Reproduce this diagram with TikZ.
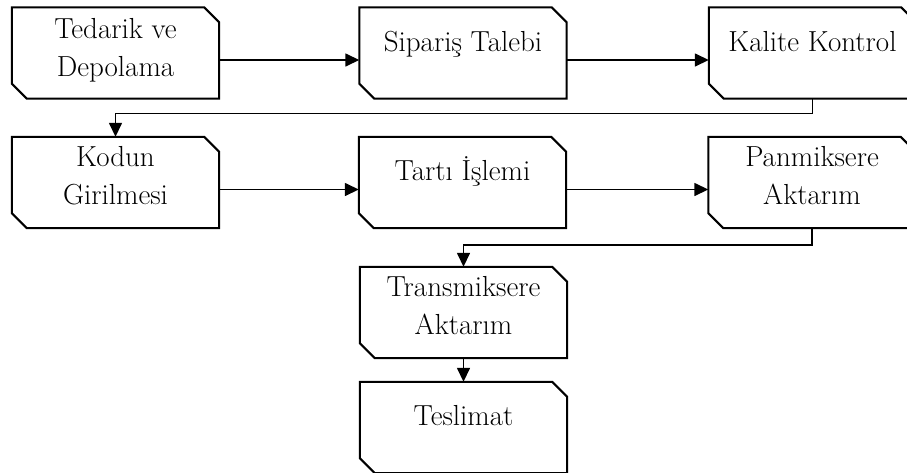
\documentclass[tikz,border=0pt]{standalone}
\usepackage{fontspec}
\setmainfont{Latin Modern Roman}
\usetikzlibrary{arrows.meta,calc}
\newcommand\snipbox[1]{\draw[outline] (#1.north west) -- ($(#1.north east)+(-15,0)$) -- ($(#1.north east)+(0,15)$) -- (#1.south east) -- ($(#1.south west)+(15,0)$) -- ($(#1.south west)+(0,-15)$) -- cycle;}
\begin{document}
\begin{tikzpicture}[x=1pt,y=-1pt,
  box/.style={draw=none, minimum width=207pt, minimum height=91pt, inner sep=0pt},
  lbl/.style={align=center, font=\fontsize{29}{38}\selectfont, inner sep=0pt, anchor=base},
  conn/.style={line width=1.5pt},
  arr/.style={conn, -{Triangle[length=14pt,width=13pt]}},
  outline/.style={line width=2pt, line join=miter}]
\useasboundingbox (0,0) rectangle (907,472);
% boxes
\node[box] (b1) at (115.5,53) {};
\node[box] (b2) at (463,53) {};
\node[box] (b3) at (812.5,53) {};
\node[box] (b4) at (115.5,182.5) {};
\node[box] (b5) at (462.5,182.5) {};
\node[box] (b6) at (812,182.5) {};
\node[box] (b7) at (463.5,312.5) {};
\node[box] (b8) at (463.5,427.5) {};
\foreach \n in {b1,b2,b3,b4,b5,b6,b7,b8} {\snipbox{\n}}
% labels (two-line labels anchored at the baseline of the last line)
\node[lbl] (t1) at ([yshift=-69pt]b1.north) {Tedarik ve\\Depolama};
\node[lbl] (t2) at ([yshift=-44pt]b2.north) {Sipariş Talebi};
\node[lbl] (t3) at ([yshift=-44pt]b3.north) {Kalite Kontrol};
\node[lbl] (t4) at ([yshift=-68pt]b4.north) {Kodun\\Girilmesi};
\node[lbl] (t5) at ([yshift=-44pt]b5.north) {Tartı İşlemi};
\node[lbl] (t6) at ([yshift=-68pt]b6.north) {Panmiksere\\Aktarım};
\node[lbl] (t7) at ([yshift=-68pt]b7.north) {Transmiksere\\Aktarım};
\node[lbl] (t8) at ([yshift=-44pt]b8.north) {Teslimat};
% connectors
\draw[arr] ([yshift=-7pt]b1.east) -- ([yshift=-7pt]b2.west);
\draw[arr] ([yshift=-7pt]b2.east) -- ([yshift=-7pt]b3.west);
\draw[arr] (b3.south) -- ++(0,15) -| (b4.north);
\draw[arr] ([yshift=-7pt]b4.east) -- ([yshift=-7pt]b5.west);
\draw[arr] ([yshift=-7pt]b5.east) -- ([yshift=-7pt]b6.west);
\draw[arr] (b6.south) -- ++(0,17) -| (b7.north);
\draw[arr] (b7.south) -- (b8.north);
\end{tikzpicture}
\end{document}
